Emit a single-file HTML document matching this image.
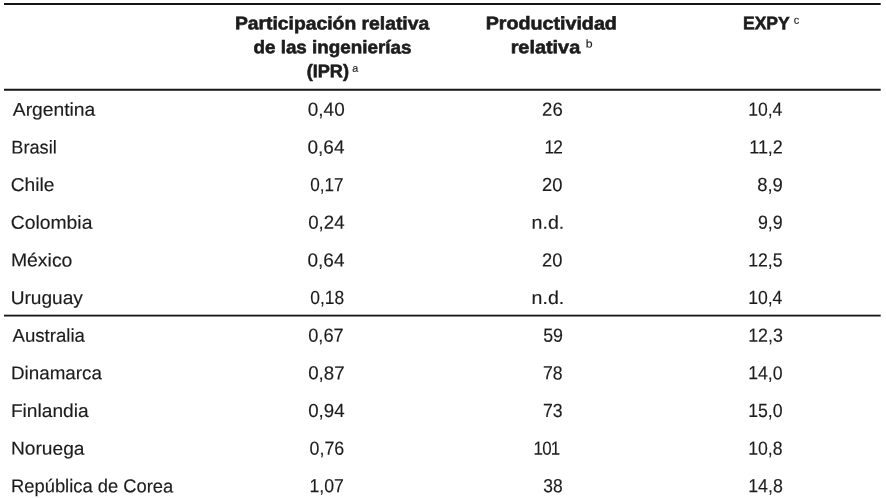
<!DOCTYPE html><html lang="es"><head><meta charset="utf-8"><title>Cuadro</title><style>
html,body{margin:0;padding:0;background:#fff}
body{width:886px;height:498px;position:relative;overflow:hidden;font-family:"Liberation Sans",sans-serif}
.t{text-rendering:geometricPrecision;position:absolute;left:0;top:0;white-space:nowrap;line-height:1;transform-origin:0 0;display:block}
svg{position:absolute;left:0;top:0}
</style></head><body>
<svg width="886" height="498" viewBox="0 0 886 498">
<rect x="4" y="3" width="876.7" height="2" fill="#151515"/>
<rect x="4" y="88.75" width="876.7" height="2" fill="#151515"/>
<rect x="4" y="314.7" width="876.7" height="1.8" fill="#151515"/>
</svg>
<span class="t" style="font-size:18.5px;font-weight:400;color:#1c1c1c;-webkit-text-stroke:0.15px #1c1c1c;transform:translate(12.80px,100.74px) scaleX(1.0416) rotate(0.06deg)">Argentina</span>
<span class="t" style="font-size:19.0px;font-weight:400;color:#1c1c1c;-webkit-text-stroke:0.15px #1c1c1c;transform:translate(307.85px,100.82px) scaleX(0.9959) rotate(0.06deg)">0,40</span>
<span class="t" style="font-size:19.0px;font-weight:400;color:#1c1c1c;-webkit-text-stroke:0.15px #1c1c1c;transform:translate(542.12px,100.82px) scaleX(0.9770) rotate(0.06deg)">26</span>
<span class="t" style="font-size:19.0px;font-weight:400;color:#1c1c1c;-webkit-text-stroke:0.15px #1c1c1c;transform:translate(748.20px,100.82px) scaleX(0.9234) rotate(0.06deg)">10,4</span>
<span class="t" style="font-size:18.5px;font-weight:400;color:#1c1c1c;-webkit-text-stroke:0.15px #1c1c1c;transform:translate(11.32px,138.39px) scaleX(0.9817) rotate(0.06deg)">Brasil</span>
<span class="t" style="font-size:19.0px;font-weight:400;color:#1c1c1c;-webkit-text-stroke:0.15px #1c1c1c;transform:translate(307.55px,138.47px) scaleX(0.9986) rotate(0.06deg)">0,64</span>
<span class="t" style="font-size:19.0px;font-weight:400;color:#1c1c1c;-webkit-text-stroke:0.15px #1c1c1c;letter-spacing:-0.9px;transform:translate(544.42px,138.47px) scaleX(0.9111) rotate(0.06deg)">12</span>
<span class="t" style="font-size:19.0px;font-weight:400;color:#1c1c1c;-webkit-text-stroke:0.15px #1c1c1c;transform:translate(749.23px,138.47px) scaleX(0.9459) rotate(0.06deg)">11,2</span>
<span class="t" style="font-size:18.5px;font-weight:400;color:#1c1c1c;-webkit-text-stroke:0.15px #1c1c1c;transform:translate(10.72px,176.04px) scaleX(1.0368) rotate(0.06deg)">Chile</span>
<span class="t" style="font-size:19.0px;font-weight:400;color:#1c1c1c;-webkit-text-stroke:0.15px #1c1c1c;transform:translate(310.33px,176.12px) scaleX(0.8993) rotate(0.06deg)">0,17</span>
<span class="t" style="font-size:19.0px;font-weight:400;color:#1c1c1c;-webkit-text-stroke:0.15px #1c1c1c;transform:translate(542.13px,176.12px) scaleX(0.9644) rotate(0.06deg)">20</span>
<span class="t" style="font-size:19.0px;font-weight:400;color:#1c1c1c;-webkit-text-stroke:0.15px #1c1c1c;transform:translate(757.27px,176.12px) scaleX(0.9697) rotate(0.06deg)">8,9</span>
<span class="t" style="font-size:18.5px;font-weight:400;color:#1c1c1c;-webkit-text-stroke:0.15px #1c1c1c;transform:translate(10.72px,213.69px) scaleX(1.0452) rotate(0.06deg)">Colombia</span>
<span class="t" style="font-size:19.0px;font-weight:400;color:#1c1c1c;-webkit-text-stroke:0.15px #1c1c1c;transform:translate(308.26px,213.77px) scaleX(0.9804) rotate(0.06deg)">0,24</span>
<span class="t" style="font-size:18.5px;font-weight:400;color:#1c1c1c;-webkit-text-stroke:0.15px #1c1c1c;transform:translate(531.63px,213.69px) scaleX(1.0572) rotate(0.06deg)">n.d.</span>
<span class="t" style="font-size:19.0px;font-weight:400;color:#1c1c1c;-webkit-text-stroke:0.15px #1c1c1c;transform:translate(758.00px,213.77px) scaleX(0.9341) rotate(0.06deg)">9,9</span>
<span class="t" style="font-size:18.5px;font-weight:400;color:#1c1c1c;-webkit-text-stroke:0.15px #1c1c1c;transform:translate(10.93px,251.34px) scaleX(1.0487) rotate(0.06deg)">México</span>
<span class="t" style="font-size:19.0px;font-weight:400;color:#1c1c1c;-webkit-text-stroke:0.15px #1c1c1c;transform:translate(307.55px,251.42px) scaleX(0.9986) rotate(0.06deg)">0,64</span>
<span class="t" style="font-size:19.0px;font-weight:400;color:#1c1c1c;-webkit-text-stroke:0.15px #1c1c1c;transform:translate(542.13px,251.42px) scaleX(0.9644) rotate(0.06deg)">20</span>
<span class="t" style="font-size:19.0px;font-weight:400;color:#1c1c1c;-webkit-text-stroke:0.15px #1c1c1c;transform:translate(748.19px,251.42px) scaleX(0.9300) rotate(0.06deg)">12,5</span>
<span class="t" style="font-size:18.5px;font-weight:400;color:#1c1c1c;-webkit-text-stroke:0.15px #1c1c1c;transform:translate(10.71px,288.99px) scaleX(1.0327) rotate(0.06deg)">Uruguay</span>
<span class="t" style="font-size:19.0px;font-weight:400;color:#1c1c1c;-webkit-text-stroke:0.15px #1c1c1c;transform:translate(310.31px,289.07px) scaleX(0.9169) rotate(0.06deg)">0,18</span>
<span class="t" style="font-size:18.5px;font-weight:400;color:#1c1c1c;-webkit-text-stroke:0.15px #1c1c1c;transform:translate(531.63px,288.99px) scaleX(1.0572) rotate(0.06deg)">n.d.</span>
<span class="t" style="font-size:19.0px;font-weight:400;color:#1c1c1c;-webkit-text-stroke:0.15px #1c1c1c;transform:translate(748.20px,289.07px) scaleX(0.9234) rotate(0.06deg)">10,4</span>
<span class="t" style="font-size:18.5px;font-weight:400;color:#1c1c1c;-webkit-text-stroke:0.15px #1c1c1c;transform:translate(12.50px,326.64px) scaleX(1.0069) rotate(0.06deg)">Australia</span>
<span class="t" style="font-size:19.0px;font-weight:400;color:#1c1c1c;-webkit-text-stroke:0.15px #1c1c1c;transform:translate(308.23px,326.72px) scaleX(0.9592) rotate(0.06deg)">0,67</span>
<span class="t" style="font-size:19.0px;font-weight:400;color:#1c1c1c;-webkit-text-stroke:0.15px #1c1c1c;transform:translate(543.24px,326.72px) scaleX(0.9367) rotate(0.06deg)">59</span>
<span class="t" style="font-size:19.0px;font-weight:400;color:#1c1c1c;-webkit-text-stroke:0.15px #1c1c1c;transform:translate(748.18px,326.72px) scaleX(0.9372) rotate(0.06deg)">12,3</span>
<span class="t" style="font-size:18.5px;font-weight:400;color:#1c1c1c;-webkit-text-stroke:0.15px #1c1c1c;transform:translate(10.97px,364.29px) scaleX(1.0170) rotate(0.06deg)">Dinamarca</span>
<span class="t" style="font-size:19.0px;font-weight:400;color:#1c1c1c;-webkit-text-stroke:0.15px #1c1c1c;transform:translate(308.21px,364.37px) scaleX(0.9831) rotate(0.06deg)">0,87</span>
<span class="t" style="font-size:19.0px;font-weight:400;color:#1c1c1c;-webkit-text-stroke:0.15px #1c1c1c;transform:translate(543.02px,364.37px) scaleX(0.9282) rotate(0.06deg)">78</span>
<span class="t" style="font-size:19.0px;font-weight:400;color:#1c1c1c;-webkit-text-stroke:0.15px #1c1c1c;transform:translate(748.19px,364.37px) scaleX(0.9300) rotate(0.06deg)">14,0</span>
<span class="t" style="font-size:18.5px;font-weight:400;color:#1c1c1c;-webkit-text-stroke:0.15px #1c1c1c;transform:translate(10.95px,401.94px) scaleX(1.0339) rotate(0.06deg)">Finlandia</span>
<span class="t" style="font-size:19.0px;font-weight:400;color:#1c1c1c;-webkit-text-stroke:0.15px #1c1c1c;transform:translate(308.21px,402.02px) scaleX(0.9818) rotate(0.06deg)">0,94</span>
<span class="t" style="font-size:19.0px;font-weight:400;color:#1c1c1c;-webkit-text-stroke:0.15px #1c1c1c;transform:translate(543.02px,402.02px) scaleX(0.9282) rotate(0.06deg)">73</span>
<span class="t" style="font-size:19.0px;font-weight:400;color:#1c1c1c;-webkit-text-stroke:0.15px #1c1c1c;transform:translate(748.19px,402.02px) scaleX(0.9300) rotate(0.06deg)">15,0</span>
<span class="t" style="font-size:18.5px;font-weight:400;color:#1c1c1c;-webkit-text-stroke:0.15px #1c1c1c;transform:translate(10.95px,439.59px) scaleX(1.0360) rotate(0.06deg)">Noruega</span>
<span class="t" style="font-size:19.0px;font-weight:400;color:#1c1c1c;-webkit-text-stroke:0.15px #1c1c1c;transform:translate(309.54px,439.67px) scaleX(0.9381) rotate(0.06deg)">0,76</span>
<span class="t" style="font-size:19.0px;font-weight:400;color:#1c1c1c;-webkit-text-stroke:0.15px #1c1c1c;letter-spacing:-0.8px;transform:translate(533.44px,439.67px) scaleX(0.8911) rotate(0.06deg)">101</span>
<span class="t" style="font-size:19.0px;font-weight:400;color:#1c1c1c;-webkit-text-stroke:0.15px #1c1c1c;transform:translate(748.19px,439.67px) scaleX(0.9300) rotate(0.06deg)">10,8</span>
<span class="t" style="font-size:18.5px;font-weight:400;color:#1c1c1c;-webkit-text-stroke:0.15px #1c1c1c;transform:translate(11.01px,477.24px) scaleX(0.9923) rotate(0.06deg)">República de Corea</span>
<span class="t" style="font-size:19.0px;font-weight:400;color:#1c1c1c;-webkit-text-stroke:0.15px #1c1c1c;transform:translate(309.39px,477.32px) scaleX(0.9310) rotate(0.06deg)">1,07</span>
<span class="t" style="font-size:19.0px;font-weight:400;color:#1c1c1c;-webkit-text-stroke:0.15px #1c1c1c;transform:translate(543.26px,477.32px) scaleX(0.9165) rotate(0.06deg)">38</span>
<span class="t" style="font-size:19.0px;font-weight:400;color:#1c1c1c;-webkit-text-stroke:0.15px #1c1c1c;transform:translate(748.18px,477.32px) scaleX(0.9372) rotate(0.06deg)">14,8</span>
<span class="t" style="font-size:18.2px;font-weight:700;color:#1c1c1c;-webkit-text-stroke:0.6px #1c1c1c;transform:translate(234.94px,14.34px) scaleX(1.0617) rotate(0.06deg)">Participación relativa</span>
<span class="t" style="font-size:18.2px;font-weight:700;color:#1c1c1c;-webkit-text-stroke:0.6px #1c1c1c;transform:translate(253.48px,38.24px) scaleX(1.0346) rotate(0.06deg)">de las ingenierías</span>
<span class="t" style="font-size:18.2px;font-weight:700;color:#1c1c1c;-webkit-text-stroke:0.6px #1c1c1c;transform:translate(306.70px,62.24px) scaleX(0.9952) rotate(0.06deg)">(IPR)</span>
<span class="t" style="font-size:18.2px;font-weight:700;color:#1c1c1c;-webkit-text-stroke:0.6px #1c1c1c;transform:translate(485.67px,14.34px) scaleX(1.0818) rotate(0.06deg)">Productividad</span>
<span class="t" style="font-size:18.2px;font-weight:700;color:#1c1c1c;-webkit-text-stroke:0.6px #1c1c1c;transform:translate(510.66px,38.24px) scaleX(1.0921) rotate(0.06deg)">relativa</span>
<span class="t" style="font-size:18.2px;font-weight:700;color:#1c1c1c;-webkit-text-stroke:0.6px #1c1c1c;transform:translate(743.04px,14.34px) scaleX(0.9611) rotate(0.06deg)">EXPY</span>
<span class="t" style="font-size:10.6px;font-weight:400;color:#222;-webkit-text-stroke:0.15px #222;transform:translate(352.29px,63.83px) scaleX(1.0097) rotate(0.06deg)">a</span>
<span class="t" style="font-size:11.4px;font-weight:400;color:#222;-webkit-text-stroke:0.15px #222;transform:translate(585.64px,39.45px) scaleX(1.0772) rotate(0.06deg)">b</span>
<span class="t" style="font-size:11.2px;font-weight:400;color:#222;-webkit-text-stroke:0.15px #222;transform:translate(793.80px,15.72px) scaleX(0.9907) rotate(0.06deg)">c</span>
</body></html>
